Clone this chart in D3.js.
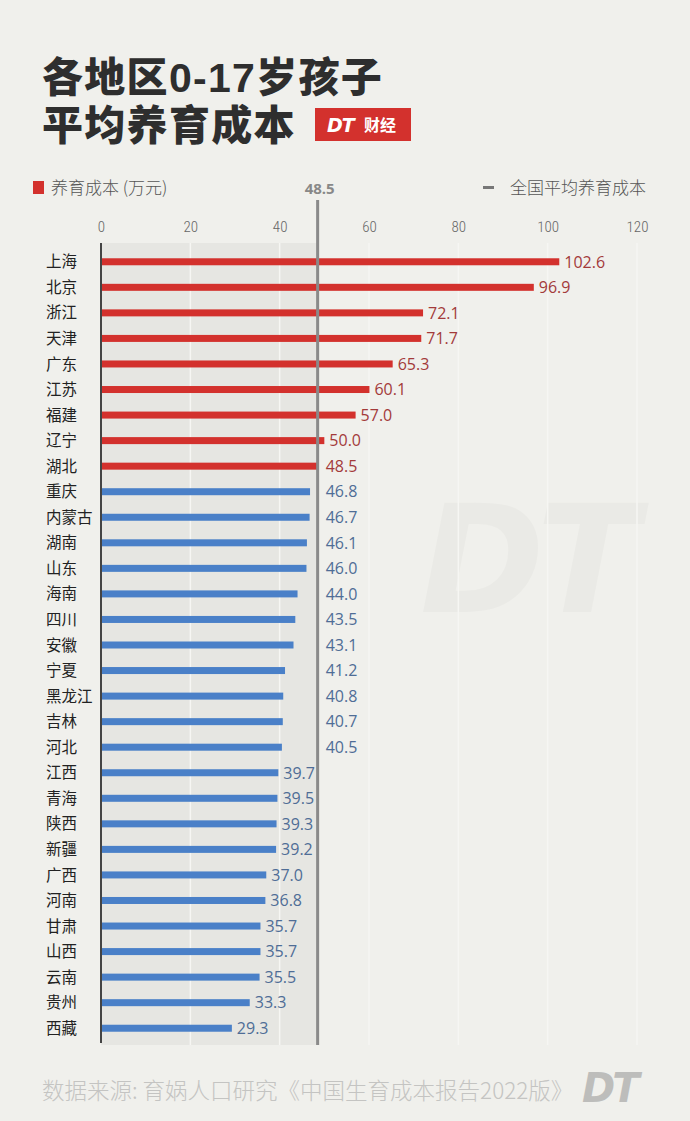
<!DOCTYPE html>
<html><head><meta charset="utf-8">
<script src="https://cdn.jsdelivr.net/npm/d3@7/dist/d3.min.js"></script>
<style>
html,body{margin:0;padding:0;background:#f0f0ec;}
svg{display:block;}
</style></head>
<body>
<script>
const categories = ["上海","北京","浙江","天津","广东","江苏","福建","辽宁","湖北","重庆","内蒙古","湖南","山东","海南","四川","安徽","宁夏","黑龙江","吉林","河北","江西","青海","陕西","新疆","广西","河南","甘肃","山西","云南","贵州","西藏"];
const values = [102.6,96.9,72.1,71.7,65.3,60.1,57.0,50.0,48.5,46.8,46.7,46.1,46.0,44.0,43.5,43.1,41.2,40.8,40.7,40.5,39.7,39.5,39.3,39.2,37.0,36.8,35.7,35.7,35.5,33.3,29.3];
const tickValues = [0,20,40,60,80,100,120];
const nationalAvg = 48.5;
const titleLines = ["各地区0-17岁孩子","平均养育成本"];
const legendLabel = "养育成本 (万元)";
const avgLabel = "全国平均养育成本";
const sourceText = "数据来源: 育娲人口研究《中国生育成本报告2022版》";

const W = 690, H = 1121;
const CJK = "'Noto Sans CJK SC','Noto Sans',sans-serif";
const svg = d3.select("body").append("svg").attr("width", W).attr("height", H);
svg.append("rect").attr("width", W).attr("height", H).attr("fill", "#f0f0ec");

const x = d3.scaleLinear().domain([0, 120]).range([101, 637]);
const y = d3.scaleBand().domain(categories).range([249, 1041]);
const plotTop = 243, plotBottom = 1045;
const avgX = x(nationalAvg);

// watermark
svg.append("text").attr("x", 420).attr("y", 612)
  .attr("font-family", "'DejaVu Sans','Liberation Sans',sans-serif")
  .attr("font-weight", "bold").attr("font-style", "italic")
  .attr("font-size", 150).attr("fill", "#eaeae6").attr("letter-spacing", -8)
  .text("DT");

// title
svg.selectAll("text.title").data(titleLines).join("text")
  .attr("class", "title")
  .attr("x", 42).attr("y", (d, i) => 92 + i * 48)
  .attr("font-family", "'Liberation Sans','Noto Sans CJK SC',sans-serif").attr("font-weight", 900)
  .attr("font-size", 41).attr("fill", "#2e2e2e").attr("letter-spacing", 1.3)
  .text(d => d);

// badge
const badge = svg.append("g").attr("transform", "translate(315,108)");
badge.append("rect").attr("width", 96).attr("height", 33).attr("fill", "#d3312d");
badge.append("text").attr("x", 12).attr("y", 24)
  .attr("font-family", "'DejaVu Sans',sans-serif").attr("font-weight", "bold")
  .attr("font-style", "italic").attr("font-size", 19).attr("fill", "#fff")
  .attr("letter-spacing", -1).text("DT");
badge.append("text").attr("x", 49).attr("y", 23)
  .attr("font-family", CJK).attr("font-weight", 700)
  .attr("font-size", 16).attr("fill", "#fff").text("财经");

// legend
svg.append("rect").attr("x", 33).attr("y", 181).attr("width", 11).attr("height", 13).attr("fill", "#d3312d");
svg.append("text").attr("x", 51).attr("y", 194)
  .attr("font-family", CJK).attr("font-weight", 300)
  .attr("font-size", 17).attr("fill", "#555").text(legendLabel);
svg.append("text").attr("x", 646).attr("y", 194).attr("text-anchor", "end")
  .attr("font-family", CJK).attr("font-weight", 300)
  .attr("font-size", 17).attr("fill", "#555").text(avgLabel);
svg.append("rect").attr("x", 483).attr("y", 186).attr("width", 11).attr("height", 3).attr("fill", "#777");
svg.append("text").attr("x", avgX + 2).attr("y", 194).attr("text-anchor", "middle")
  .attr("font-family", "'Open Sans','Noto Sans',sans-serif").attr("font-weight", 700)
  .attr("font-size", 15).attr("fill", "#888").text(d3.format(".1f")(nationalAvg));

// gray band up to avg
svg.append("rect").attr("x", x(0)).attr("y", plotTop)
  .attr("width", avgX - x(0)).attr("height", plotBottom - plotTop)
  .attr("fill", "#e6e6e2");

// faint gridlines
svg.selectAll("line.grid").data(tickValues.filter(d => d > 0)).join("line")
  .attr("class", "grid")
  .attr("x1", d => x(d)).attr("x2", d => x(d))
  .attr("y1", plotTop).attr("y2", plotBottom)
  .attr("stroke", "#f6f6f3").attr("stroke-width", 1.5);

// top axis ticks
const axis = d3.axisTop(x).tickValues(tickValues).tickSize(0).tickPadding(0);
const gAxis = svg.append("g").attr("transform", "translate(0,232)").call(axis);
gAxis.select(".domain").remove();
gAxis.selectAll("text")
  .attr("font-family", "'Liberation Sans Narrow','Roboto Condensed','Noto Sans',sans-serif")
  .attr("font-weight", 300).attr("font-size", 15).attr("fill", "#666");

// bars
const barH = 7;
svg.selectAll("rect.bar").data(values).join("rect")
  .attr("class", "bar")
  .attr("x", x(0))
  .attr("y", (d, i) => y(categories[i]) + y.bandwidth() / 2 - barH / 2)
  .attr("width", d => x(d) - x(0))
  .attr("height", barH)
  .attr("fill", d => d >= nationalAvg ? "#d3312d" : "#4a80c8");

// y axis line
svg.append("line").attr("x1", x(0)).attr("x2", x(0))
  .attr("y1", plotTop).attr("y2", plotBottom - 2)
  .attr("stroke", "#444").attr("stroke-width", 2);

// average line
svg.append("line").attr("x1", avgX).attr("x2", avgX)
  .attr("y1", 200).attr("y2", plotBottom)
  .attr("stroke", "#8a8a8a").attr("stroke-width", 3);

// category labels
svg.selectAll("text.cat").data(categories).join("text")
  .attr("class", "cat")
  .attr("x", 46).attr("y", d => y(d) + y.bandwidth() / 2)
  .attr("dy", "0.36em")
  .attr("font-family", CJK).attr("font-weight", 400)
  .attr("font-size", 15.5).attr("fill", "#222")
  .text(d => d);

// value labels
const vl = svg.selectAll("text.val").data(values).join("text")
  .attr("class", "val")
  .attr("y", (d, i) => y(categories[i]) + y.bandwidth() / 2)
  .attr("dy", "0.36em")
  .attr("font-family", "'Open Sans','Noto Sans',sans-serif").attr("font-weight", 500)
  .attr("font-size", 16)
  .attr("fill", d => d >= nationalAvg ? "#a33a3a" : "#4f6d96")
  .text(d => d3.format(".1f")(d));
vl.each(function(d) {
  const t = d3.select(this);
  let px = x(d) + 5;
  const w = this.getComputedTextLength();
  if (px + w > avgX - 2 && px < avgX + 8) px = avgX + 8;
  t.attr("x", px);
});

// source
svg.append("text").attr("x", 42).attr("y", 1099)
  .attr("font-family", CJK).attr("font-weight", 300)
  .attr("font-size", 22.5).attr("fill", "#c4c4c2").text(sourceText);
svg.append("text").attr("x", 582).attr("y", 1102)
  .attr("font-family", "'DejaVu Sans',sans-serif").attr("font-weight", "bold")
  .attr("font-style", "italic").attr("font-size", 40).attr("fill", "#bdbdbb")
  .attr("letter-spacing", -3).text("DT");
</script>
</body></html>
